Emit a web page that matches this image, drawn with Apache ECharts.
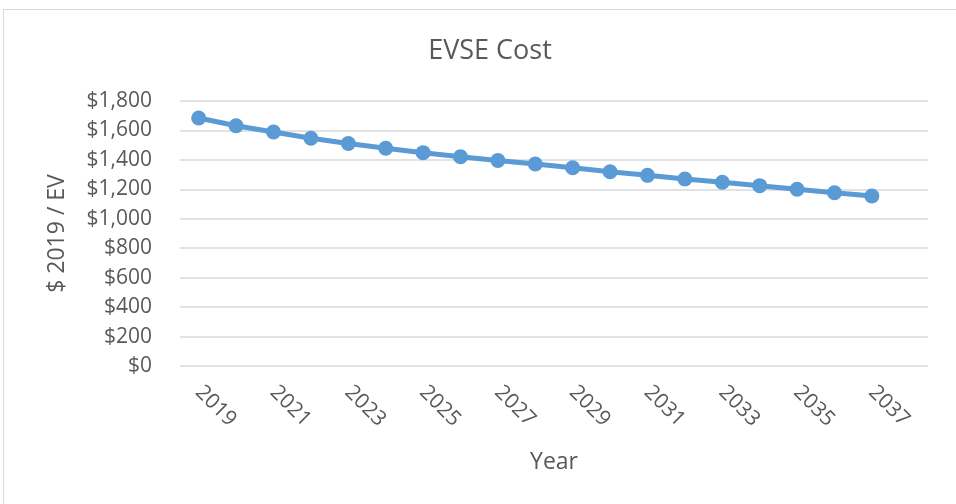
<!DOCTYPE html>
<html><head><meta charset="utf-8">
<script src="https://cdn.jsdelivr.net/npm/echarts@6/dist/echarts.min.js"></script>
<style>html,body{margin:0;padding:0;background:#fff}#c{width:956px;height:504px}</style>
</head><body><div id="c"></div>
<script>
const years = ['2019','2020','2021','2022','2023','2024','2025','2026','2027','2028','2029','2030','2031','2032','2033','2034','2035','2036','2037','2038'];
const cost = [1685,1632,1589,1547,1511,1479,1449,1421,1396,1372,1347,1319,1295,1270,1248,1225,1201,1177,1155,null];
const yTicks = {min:0, max:1800, interval:200};
const FONT = "'Open Sans', 'Noto Sans', sans-serif";
const chart = echarts.init(document.getElementById('c'));
chart.setOption({
  animation:false,
  backgroundColor:'#fff',
  graphic:[{type:'rect', shape:{x:3.5,y:9.5,width:1000,height:600}, style:{fill:'none', stroke:'#d9d9d9', lineWidth:1}}],
  title:{text:'EVSE Cost', left:485, top:33, textAlign:'center', textStyle:{fontFamily:FONT, fontSize:27, fontWeight:'normal', color:'#595959'}},
  grid:{left:180, right:28, top:101, bottom:138},
  xAxis:{type:'category', data:years, boundaryGap:true,
    name:'Year', nameLocation:'middle', nameGap:85,
    nameTextStyle:{fontFamily:FONT, fontSize:23, color:'#595959'},
    axisLine:{show:false}, axisTick:{show:false},
    axisLabel:{interval:1, rotate:-45, margin:23, fontFamily:FONT, fontSize:21, color:'#595959'}},
  yAxis:{type:'value', min:yTicks.min, max:yTicks.max, interval:yTicks.interval,
    name:'$ 2019 / EV', nameLocation:'middle', nameGap:111,
    nameTextStyle:{fontFamily:FONT, fontSize:23, color:'#595959'},
    axisLine:{show:false}, axisTick:{show:false},
    splitLine:{lineStyle:{color:'#d9d9d9', width:1.5}},
    axisLabel:{margin:28, fontFamily:FONT, fontSize:21, color:'#595959',
      formatter:v=>'$'+v.toLocaleString('en-US')}},
  series:[{type:'line', data:cost, connectNulls:false, symbol:'circle', symbolSize:15,
    lineStyle:{color:'#5B9BD5', width:5}, itemStyle:{color:'#5B9BD5'}}]
});
</script></body></html>
